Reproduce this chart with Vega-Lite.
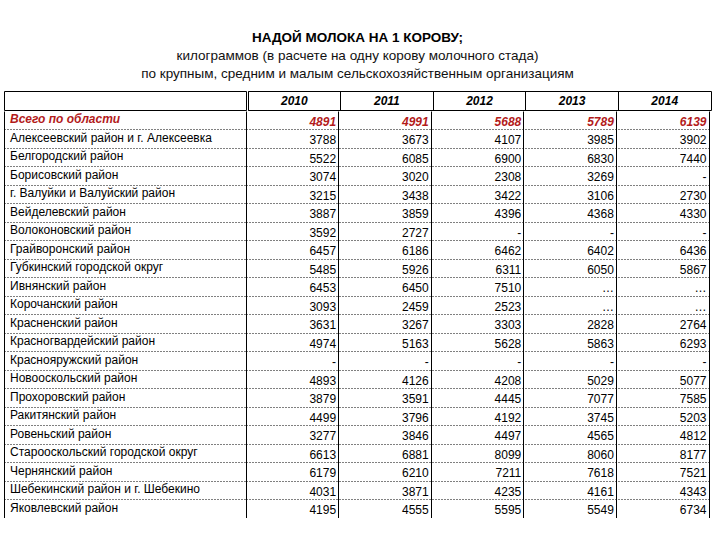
{
  "$schema": "https://vega.github.io/schema/vega-lite/v6.json",
  "background": "white",
  "padding": {"left": 3, "top": 30, "right": 0, "bottom": 0},
  "config": {
    "view": {"stroke": null},
    "font": "Liberation Sans",
    "text": {"font": "Liberation Sans", "fontSize": 12, "color": "black"}
  },
  "title": {
    "text": "НАДОЙ МОЛОКА НА 1 КОРОВУ;",
    "subtitle": ["килограммов (в расчете на одну корову молочного стада)", "по крупным, средним и малым сельскохозяйственным организациям"],
    "anchor": "middle",
    "font": "Liberation Sans",
    "fontSize": 13.5,
    "fontWeight": "bold",
    "color": "black",
    "subtitleFont": "Liberation Sans",
    "subtitleFontSize": 13.5,
    "subtitleColor": "#111111",
    "subtitleLineHeight": 18,
    "subtitlePadding": 5,
    "offset": 10
  },
  "datasets": {
    "years": [{"year": "2010"}, {"year": "2011"}, {"year": "2012"}, {"year": "2013"}, {"year": "2014"}],
    "corner": [{"c": ""}],
    "rows": [
      {"name": "Всего по области", "total": true, "2010": 4891, "2011": 4991, "2012": 5688, "2013": 5789, "2014": 6139},
      {"name": "Алексеевский район и г. Алексеевка", "total": false, "2010": 3788, "2011": 3673, "2012": 4107, "2013": 3985, "2014": 3902},
      {"name": "Белгородский район", "total": false, "2010": 5522, "2011": 6085, "2012": 6900, "2013": 6830, "2014": 7440},
      {"name": "Борисовский район", "total": false, "2010": 3074, "2011": 3020, "2012": 2308, "2013": 3269, "2014": "-"},
      {"name": "г. Валуйки и Валуйский район", "total": false, "2010": 3215, "2011": 3438, "2012": 3422, "2013": 3106, "2014": 2730},
      {"name": "Вейделевский район", "total": false, "2010": 3887, "2011": 3859, "2012": 4396, "2013": 4368, "2014": 4330},
      {"name": "Волоконовский район", "total": false, "2010": 3592, "2011": 2727, "2012": "-", "2013": "-", "2014": "-"},
      {"name": "Грайворонский район", "total": false, "2010": 6457, "2011": 6186, "2012": 6462, "2013": 6402, "2014": 6436},
      {"name": "Губкинский городской округ", "total": false, "2010": 5485, "2011": 5926, "2012": 6311, "2013": 6050, "2014": 5867},
      {"name": "Ивнянский район", "total": false, "2010": 6453, "2011": 6450, "2012": 7510, "2013": "…", "2014": "…"},
      {"name": "Корочанский район", "total": false, "2010": 3093, "2011": 2459, "2012": 2523, "2013": "…", "2014": "…"},
      {"name": "Красненский район", "total": false, "2010": 3631, "2011": 3267, "2012": 3303, "2013": 2828, "2014": 2764},
      {"name": "Красногвардейский район", "total": false, "2010": 4974, "2011": 5163, "2012": 5628, "2013": 5863, "2014": 6293},
      {"name": "Краснояружский район", "total": false, "2010": "-", "2011": "-", "2012": "-", "2013": "-", "2014": "-"},
      {"name": "Новооскольский район", "total": false, "2010": 4893, "2011": 4126, "2012": 4208, "2013": 5029, "2014": 5077},
      {"name": "Прохоровский район", "total": false, "2010": 3879, "2011": 3591, "2012": 4445, "2013": 7077, "2014": 7585},
      {"name": "Ракитянский район", "total": false, "2010": 4499, "2011": 3796, "2012": 4192, "2013": 3745, "2014": 5203},
      {"name": "Ровеньский район", "total": false, "2010": 3277, "2011": 3846, "2012": 4497, "2013": 4565, "2014": 4812},
      {"name": "Старооскольский городской округ", "total": false, "2010": 6613, "2011": 6881, "2012": 8099, "2013": 8060, "2014": 8177},
      {"name": "Чернянский район", "total": false, "2010": 6179, "2011": 6210, "2012": 7211, "2013": 7618, "2014": 7521},
      {"name": "Шебекинский район и г. Шебекино", "total": false, "2010": 4031, "2011": 3871, "2012": 4235, "2013": 4161, "2014": 4343},
      {"name": "Яковлевский район", "total": false, "2010": 4195, "2011": 4555, "2012": 5595, "2013": 5549, "2014": 6734}
    ]
  },
  "spacing": 0,
  "vconcat": [
    {
      "spacing": 0,
      "hconcat": [
        {
          "width": 242,
          "height": 19,
          "data": {"name": "corner"},
          "mark": {"type": "text"},
          "encoding": {"text": {"field": "c"}},
          "view": {"stroke": "black", "strokeWidth": 1}
        },
        {
          "width": 463,
          "height": 19,
          "data": {"name": "years"},
          "mark": {"type": "text", "fontWeight": "bold", "fontStyle": "italic", "fontSize": 12, "baseline": "middle"},
          "encoding": {
            "x": {
              "field": "year", "type": "nominal", "sort": null,
              "scale": {"type": "band", "paddingInner": 0, "paddingOuter": 0},
              "axis": {"title": null, "labels": false, "ticks": false, "domain": false, "grid": true, "gridColor": "black", "gridOpacity": 1, "gridWidth": 1, "bandPosition": 0}
            },
            "text": {"field": "year"}
          },
          "view": {"stroke": "black", "strokeWidth": 1}
        }
      ]
    },
    {
      "spacing": 0,
      "hconcat": [
        {
          "width": 242,
          "height": 407,
          "data": {"name": "rows"},
          "encoding": {
            "y": {
              "field": "name", "type": "nominal", "sort": null,
              "scale": {"type": "band", "paddingInner": 0, "paddingOuter": 0},
              "axis": {"orient": "left", "title": null, "labels": false, "ticks": false, "domain": true, "domainColor": "black", "domainWidth": 1, "grid": true, "gridDash": [1, 2], "gridColor": "black", "gridOpacity": 1, "gridWidth": 1, "bandPosition": 1}
            },
            "x": {"datum": "Район", "type": "nominal", "scale": {"type": "band", "paddingInner": 0, "paddingOuter": 0}, "bandPosition": 0, "axis": null},
            "text": {"field": "name"}
          },
          "layer": [
            {
              "transform": [{"filter": "datum.total"}],
              "mark": {"type": "text", "align": "left", "baseline": "alphabetic", "dx": 6, "dy": 3, "fontWeight": "bold", "fontStyle": "italic", "color": "#b31b1b"}
            },
            {
              "transform": [{"filter": "!datum.total"}],
              "mark": {"type": "text", "align": "left", "baseline": "alphabetic", "dx": 6, "dy": 3}
            }
          ]
        },
        {
          "width": 463,
          "height": 407,
          "data": {"name": "rows"},
          "transform": [{"fold": ["2010", "2011", "2012", "2013", "2014"], "as": ["year", "v"]}],
          "encoding": {
            "x": {
              "field": "year", "type": "nominal", "sort": null, "bandPosition": 1,
              "scale": {"type": "band", "paddingInner": 0, "paddingOuter": 0},
              "axis": {"title": null, "labels": false, "ticks": false, "domain": false, "grid": true, "gridColor": "black", "gridOpacity": 1, "gridWidth": 1, "bandPosition": 0}
            },
            "y": {
              "field": "name", "type": "nominal", "sort": null, "bandPosition": 1,
              "scale": {"type": "band", "paddingInner": 0, "paddingOuter": 0},
              "axis": {"orient": "right", "title": null, "labels": false, "ticks": false, "domain": true, "domainColor": "black", "domainWidth": 1, "grid": true, "gridDash": [1, 2], "gridColor": "black", "gridOpacity": 1, "gridWidth": 1, "bandPosition": 1}
            },
            "text": {"field": "v"}
          },
          "layer": [
            {
              "transform": [{"filter": "datum.total"}],
              "mark": {"type": "text", "align": "right", "baseline": "alphabetic", "dx": -2.5, "dy": -4, "fontWeight": "bold", "fontStyle": "italic", "color": "#b31b1b"}
            },
            {
              "transform": [{"filter": "!datum.total"}],
              "mark": {"type": "text", "align": "right", "baseline": "alphabetic", "dx": -2.5, "dy": -4}
            }
          ]
        }
      ]
    }
  ]
}
